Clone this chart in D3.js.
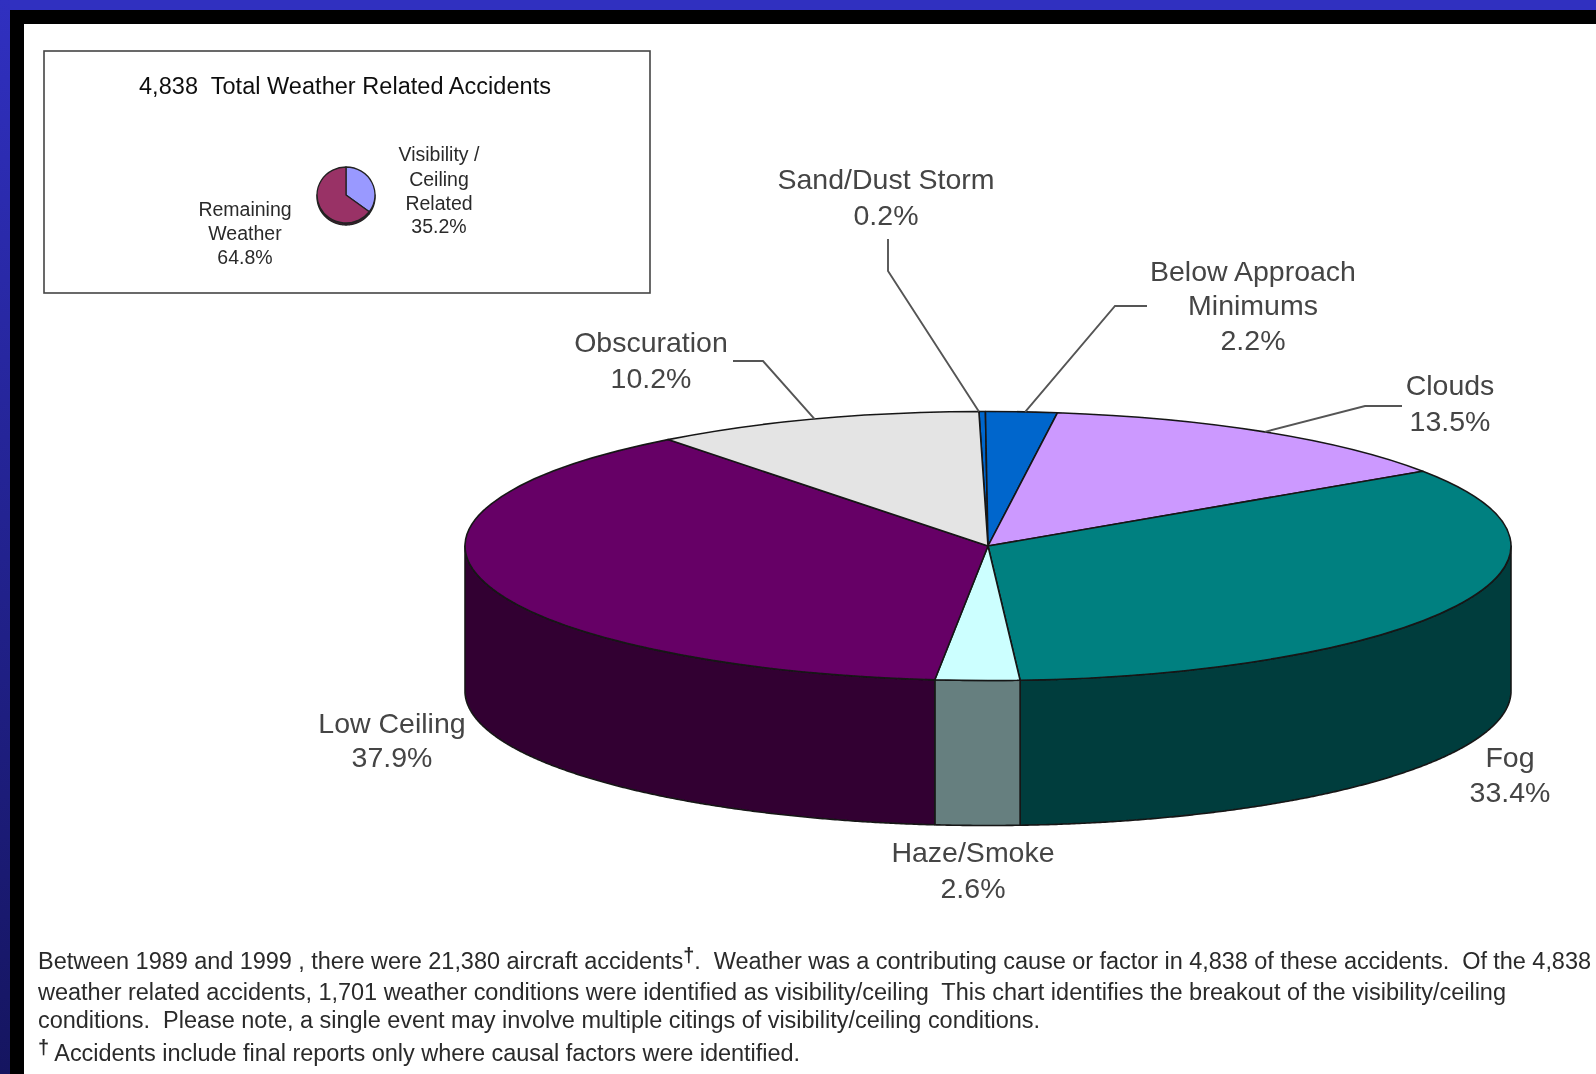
<!DOCTYPE html>
<html>
<head>
<meta charset="utf-8">
<script src="https://cdn.jsdelivr.net/npm/d3@7"></script>
<style>
    html, body { margin: 0; padding: 0; background: #fff; }
    svg { display: block; }
    text { font-family: "Liberation Sans", Arial, sans-serif; white-space: pre; }
</style>
</head>
<body>
<div id="chart"></div>
<script>
// main pie
const categories = ["Sand/Dust Storm", "Below Approach Minimums", "Clouds", "Fog", "Haze/Smoke", "Low Ceiling", "Obscuration"];
const values = [0.2, 2.2, 13.5, 33.4, 2.6, 37.9, 10.2];
const topColors = ["#0066cc", "#0066cc", "#cc99ff", "#008080", "#ccffff", "#660066", "#e4e4e4"];
const sideColors = ["#003366", "#003366", "#664c7f", "#003c3c", "#667f7f", "#330033", "#727272"];

// inset pie
const insetCategories = ["Visibility / Ceiling Related", "Remaining Weather"];
const insetValues = [35.2, 64.8];
const insetTopColors = ["#9999ff", "#993366"];
const insetSideColors = ["#4c4c7f", "#4c1933"];

const insetTitle = "4,838  Total Weather Related Accidents";
const footnotes = [
    ["Between 1989 and 1999 , there were 21,380 aircraft accidents", "†", ".  Weather was a contributing cause or factor in 4,838 of these accidents.  Of the 4,838"],
    ["weather related accidents, 1,701 weather conditions were identified as visibility/ceiling  This chart identifies the breakout of the visibility/ceiling"],
    ["conditions.  Please note, a single event may involve multiple citings of visibility/ceiling conditions."],
    ["", "†", " Accidents include final reports only where causal factors were identified."]
];

const width = 1596, height = 1074;
const fmt = d => d3.format(".1f")(d) + "%";

const svg = d3.select("#chart").append("svg")
    .attr("width", width)
    .attr("height", height);

const defs = svg.append("defs");
const grad = defs.append("linearGradient")
    .attr("id", "leftBand")
    .attr("x1", 0).attr("x2", 0).attr("y1", 0).attr("y2", 1);
grad.append("stop").attr("offset", "0%").attr("stop-color", "#3030c0");
grad.append("stop").attr("offset", "100%").attr("stop-color", "#151560");

// slight softening, the source is an enlarged low-res image
defs.append("filter").attr("id", "soft")
    .append("feGaussianBlur").attr("stdDeviation", 0.7);

// frame
svg.append("rect").attr("width", width).attr("height", height).attr("fill", "#000");
svg.append("rect").attr("width", width).attr("height", 10).attr("fill", "#3030c0");
svg.append("rect").attr("width", 10).attr("height", height).attr("fill", "url(#leftBand)");
svg.append("rect").attr("x", 24).attr("y", 24).attr("width", width - 24).attr("height", height - 24).attr("fill", "#fff");

const root = svg.append("g").attr("filter", "url(#soft)");

// inset box
root.append("rect")
    .attr("x", 44).attr("y", 51).attr("width", 606).attr("height", 242)
    .attr("fill", "#fff").attr("stroke", "#444").attr("stroke-width", 1.6);

// draws a flattened pie with its rim, returns a function for points on the ellipse
function drawPie(parent, opt) {
    const x = d3.scaleLinear().domain([-1, 1]).range([opt.cx - opt.rx, opt.cx + opt.rx]);
    const y = d3.scaleLinear().domain([-1, 1]).range([opt.cy + opt.ry, opt.cy - opt.ry]);

    const slices = d3.pie()
        .sort(null)
        .startAngle(opt.start)
        .endAngle(opt.start + 2 * Math.PI)(opt.values);

    const g = parent.append("g");

    // rim, only the front half shows
    const rim = d3.area()
        .x(a => x(Math.sin(a)))
        .y0(a => y(Math.cos(a)))
        .y1(a => y(Math.cos(a)) + opt.depth);

    const front = slices
        .map((s, i) => ({
            from: Math.max(s.startAngle, Math.PI / 2),
            to: Math.min(s.endAngle, 3 * Math.PI / 2),
            fill: opt.sideColors[i]
        }))
        .filter(d => d.to > d.from);

    g.selectAll(".rim")
        .data(front)
        .enter().append("path")
        .attr("class", "rim")
        .attr("fill", d => d.fill)
        .attr("stroke", opt.stroke)
        .attr("stroke-width", opt.strokeWidth)
        .attr("stroke-linejoin", "round")
        .attr("d", d => rim(d3.range(d.from, d.to, 0.005).concat(d.to)));

    // top face, a round arc squeezed in y
    const arc = d3.arc().innerRadius(0).outerRadius(opt.rx);
    g.append("g")
        .attr("transform", `translate(${opt.cx},${opt.cy}) scale(1,${opt.ry / opt.rx})`)
        .selectAll("path")
        .data(slices)
        .enter().append("path")
        .attr("fill", (d, i) => opt.topColors[i])
        .attr("stroke", opt.stroke)
        .attr("stroke-width", opt.strokeWidth)
        .attr("stroke-linejoin", "round")
        .attr("vector-effect", "non-scaling-stroke")
        .attr("d", arc);

    return {
        slices,
        edge: a => [x(Math.sin(a)), y(Math.cos(a))]
    };
}

const mainPie = drawPie(root, {
    cx: 988, cy: 546, rx: 523, ry: 134.5, depth: 145,
    start: -1 * Math.PI / 180,
    values, topColors, sideColors,
    stroke: "#161616", strokeWidth: 1.6
});

drawPie(root, {
    cx: 346, cy: 195, rx: 29, ry: 28, depth: 2,
    start: 0,
    values: insetValues, topColors: insetTopColors, sideColors: insetSideColors,
    stroke: "#222", strokeWidth: 1.3
});

// leader lines, the elbow comes from the label, the end from a spot along the slice
const leaders = [
    { slice: 0, at: 0, from: [888, 239], elbow: [888, 271] },
    { slice: 1, at: 0.55, from: [1147, 306], elbow: [1115, 306] },
    { slice: 2, at: 0.5, from: [1402, 406], elbow: [1365, 406] },
    { slice: 6, at: 0.5, from: [733, 361], elbow: [763, 361] }
];
root.selectAll(".leader")
    .data(leaders)
    .enter().append("path")
    .attr("class", "leader")
    .attr("fill", "none")
    .attr("stroke", "#555")
    .attr("stroke-width", 1.9)
    .attr("d", d => {
        const s = mainPie.slices[d.slice];
        const a = s.startAngle + (s.endAngle - s.startAngle) * d.at;
        return d3.line()([d.from, d.elbow, mainPie.edge(a)]);
    });

// main labels: lines of text with their anchor
const mainLabels = [
    { x: 886, lines: [["Sand/Dust Storm", 189], [fmt(values[0]), 225]] },
    { x: 1253, lines: [["Below Approach", 281], ["Minimums", 315], [fmt(values[1]), 350]] },
    { x: 1450, lines: [["Clouds", 395], [fmt(values[2]), 431]] },
    { x: 1510, lines: [["Fog", 767], [fmt(values[3]), 802]] },
    { x: 973, lines: [["Haze/Smoke", 862], [fmt(values[4]), 898]] },
    { x: 392, lines: [["Low Ceiling", 733], [fmt(values[5]), 767]] },
    { x: 651, lines: [["Obscuration", 352], [fmt(values[6]), 388]] }
];
const labelG = root.selectAll(".label")
    .data(mainLabels)
    .enter().append("g")
    .attr("class", "label");
labelG.selectAll("text")
    .data(d => d.lines.map(l => ({ x: d.x, t: l[0], y: l[1] })))
    .enter().append("text")
    .attr("x", d => d.x)
    .attr("y", d => d.y)
    .attr("text-anchor", "middle")
    .attr("font-size", 28.5)
    .attr("fill", "#444")
    .text(d => d.t);

// inset texts
root.append("text")
    .attr("x", 139).attr("y", 94)
    .attr("font-size", 23.5)
    .attr("fill", "#111")
    .attr("textLength", 412)
    .text(insetTitle);

const insetLabels = [
    { x: 439, lines: [["Visibility /", 161], ["Ceiling", 186], ["Related", 210], [fmt(insetValues[0]), 233]] },
    { x: 245, lines: [["Remaining", 216], ["Weather", 239.5], [fmt(insetValues[1]), 264]] }
];
root.selectAll(".insetLabel")
    .data(insetLabels)
    .enter().append("g")
    .attr("class", "insetLabel")
    .selectAll("text")
    .data(d => d.lines.map(l => ({ x: d.x, t: l[0], y: l[1] })))
    .enter().append("text")
    .attr("x", d => d.x)
    .attr("y", d => d.y)
    .attr("text-anchor", "middle")
    .attr("font-size", 19.5)
    .attr("fill", "#2a2a2a")
    .text(d => d.t);

// footnote lines
const noteLayout = [
    { x: 38, y: 969, len: 1553 },
    { x: 38, y: 1000, len: 1468 },
    { x: 38, y: 1028, len: 1002 },
    { x: 38, y: 1061, len: 762 }
];
footnotes.forEach((parts, i) => {
    const t = root.append("text")
        .attr("x", noteLayout[i].x)
        .attr("y", noteLayout[i].y)
        .attr("font-size", 23.5)
        .attr("fill", "#2a2a2a")
        .attr("textLength", noteLayout[i].len);
    parts.forEach((p, j) => {
        const isMark = p === "†";
        const prevMark = j > 0 && parts[j - 1] === "†";
        t.append("tspan")
            .attr("dy", isMark ? -7 : prevMark ? 7 : 0)
            .attr("font-weight", isMark ? "bold" : null)
            .attr("font-size", isMark ? 20 : null)
            .text(p);
    });
});
</script>
</body>
</html>
